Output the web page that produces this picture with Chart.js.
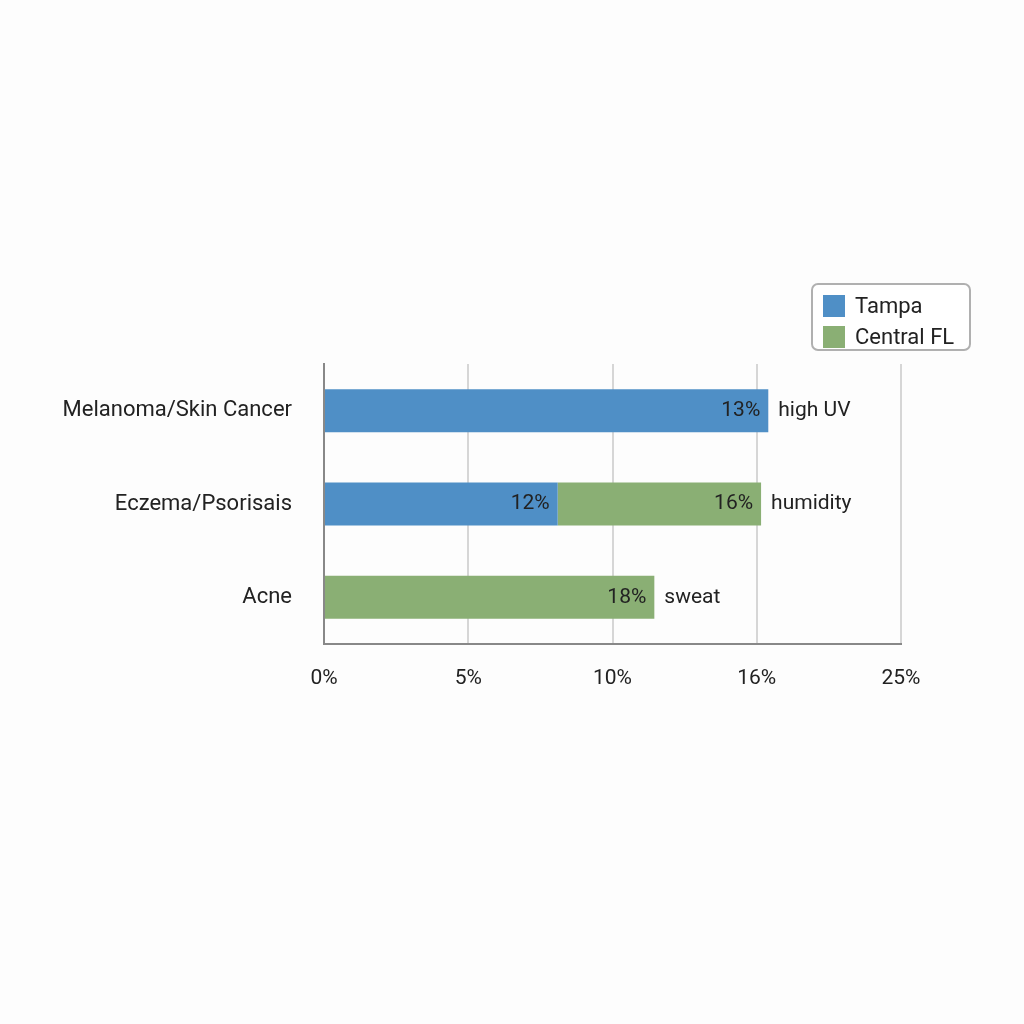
<!DOCTYPE html>
<html><head><meta charset="utf-8">
<script src="https://cdn.jsdelivr.net/npm/chart.js@4"></script>
<style>
body{margin:0;background:#fdfdfd;font-family:Roboto,sans-serif}
#wrap{position:absolute;left:0;top:0;width:1024px;height:1024px}
#legend{position:absolute;left:811px;top:283px;width:160px;height:68px;border:2px solid #b0b0b0;border-radius:7px;background:#fff;box-sizing:border-box;padding:5px 0 0 10px;font-size:22px;color:#222}
#legend div{display:flex;align-items:center;height:31px}
#legend span{display:inline-block;width:22px;height:22px;margin-right:10px}
</style></head><body>
<div id="wrap"><canvas id="c" width="1024" height="1024"></canvas></div>
<div id="legend"><div><span style="background:#4f8fc6"></span>Tampa</div><div><span style="background:#8aaf74"></span>Central FL</div></div>
<script>
const categories=["Melanoma/Skin Cancer","Eczema/Psorisais","Acne"];
const tampa=[15.4,8.1,null];
const central=[null,7.05,11.45];
const tampaLabels=["13%","12%",""];
const centralLabels=["","16%","18%"];
const notes=["high UV","humidity","sweat"];
const tickLabels=["0%","5%","10%","16%","25%"];

const labelPlugin={id:'lbl',afterDatasetsDraw(chart){
 const ctx=chart.ctx;ctx.save();ctx.font='21px Roboto';ctx.fillStyle='#222';ctx.textBaseline='middle';
 const texts=[tampaLabels,centralLabels];
 chart.data.datasets.forEach((ds,i)=>{chart.getDatasetMeta(i).data.forEach((b,j)=>{
   if(ds.data[j]==null||!texts[i][j])return;ctx.textAlign='right';ctx.fillText(texts[i][j],b.x-8,b.y);});});
 categories.forEach((c,j)=>{let x=0,y=0;[0,1].forEach(i=>{const b=chart.getDatasetMeta(i).data[j];if(chart.data.datasets[i].data[j]!=null){x=Math.max(x,b.x);y=b.y;}});
   ctx.textAlign='left';ctx.fillText(notes[j],x+10,y);});
 ctx.restore();}};

new Chart(document.getElementById('c'),{type:'bar',
 data:{labels:categories,datasets:[
  {label:'Tampa',data:tampa,backgroundColor:'#4f8fc6',barPercentage:0.46,categoryPercentage:1},
  {label:'Central FL',data:central,backgroundColor:'#8aaf74',barPercentage:0.46,categoryPercentage:1}]},
 options:{indexAxis:'y',responsive:false,animation:false,
  layout:{padding:{left:0,top:364,right:123,bottom:320}},
  plugins:{legend:{display:false},tooltip:{enabled:false}},
  scales:{
   x:{stacked:true,min:0,max:20,afterFit(s){s.height=60;},
     ticks:{stepSize:5,padding:22,color:'#222',font:{size:21,family:'Roboto'},callback:(v,i)=>tickLabels[i]},
     grid:{color:'#d6d6d6',lineWidth:2,drawTicks:false},border:{color:'#888',width:2}},
   y:{stacked:true,afterFit(s){s.width=324;},
     ticks:{padding:32,color:'#222',font:{size:22,family:'Roboto'}},
     grid:{display:false,drawTicks:false},border:{color:'#888',width:2}}}},
 plugins:[labelPlugin]});
</script></body></html>
